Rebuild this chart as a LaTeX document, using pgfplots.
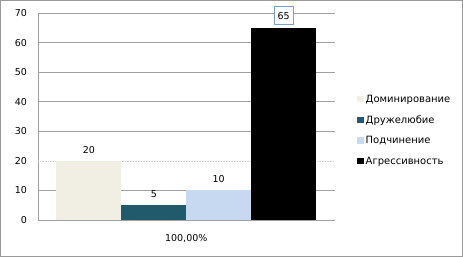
\documentclass[border=0pt]{standalone}
\usepackage{pgfplots}
\pgfplotsset{compat=1.18}
\usepackage{fontspec}
\setmainfont{DejaVu Sans}
\definecolor{cDom}{RGB}{241,239,228}
\definecolor{cDru}{RGB}{33,90,106}
\definecolor{cPod}{RGB}{198,217,241}
\definecolor{cAgr}{RGB}{0,0,0}
\definecolor{cGrid}{RGB}{160,160,160}
\definecolor{cBox}{RGB}{120,160,210}
\begin{document}
\begin{tikzpicture}
\begin{axis}[
  scale only axis, width=296pt, height=207pt,
  xmin=-0.777, xmax=3.785, ymin=0, ymax=70,
  ytick={0,10,30,40,50,60,70},
  extra y ticks={20},
  extra y tick style={grid style={densely dotted, gray!40}},
  xtick={1.5}, xticklabels={100{,}00\%},
  major tick length=0pt,
  axis x line*=bottom, axis y line*=left,
  axis line style={-, cGrid},
  ymajorgrids, grid style={cGrid, line width=0.6pt},
  /pgf/number format/assume math mode=true,
  tick label style={font=\fontsize{9.5}{11}\selectfont, black},
  yticklabel style={xshift=-8pt},
  xticklabel style={yshift=-11pt},
  nodes near coords style={font=\fontsize{9.5}{11}\selectfont, anchor=south, yshift=4pt},
  legend style={at={(1,0.433)}, anchor=west, xshift=19.5pt, draw=none, fill=none,
    row sep=7.8pt, font=\fontsize{10}{11}\selectfont},
  legend cell align=left,
  area legend,
  legend image code/.code={\draw[#1, draw=none] (0pt,-3pt) rectangle (6.5pt,3.5pt);},
]
\addplot[ybar, bar width=1, bar shift=0pt, fill=cDom, draw=none, nodes near coords] coordinates {(0,20)};
\addlegendentry{Доминирование}
\addplot[ybar, bar width=1, bar shift=0pt, fill=cDru, draw=none, nodes near coords] coordinates {(1,5)};
\addlegendentry{Дружелюбие}
\addplot[ybar, bar width=1, bar shift=0pt, fill=cPod, draw=none, nodes near coords] coordinates {(2,10)};
\addlegendentry{Подчинение}
\addplot[ybar, bar width=1, bar shift=0pt, fill=cAgr, draw=none, nodes near coords,
  nodes near coords style={draw=cBox, fill=white, inner sep=3pt, yshift=-1pt, minimum width=19pt, minimum height=18pt}] coordinates {(3,65)};
\addlegendentry{Агрессивность}
\end{axis}
\draw[gray!80, line width=1pt] (-38pt,-36.5pt) rectangle (424pt,219.5pt);
\end{tikzpicture}
\end{document}
